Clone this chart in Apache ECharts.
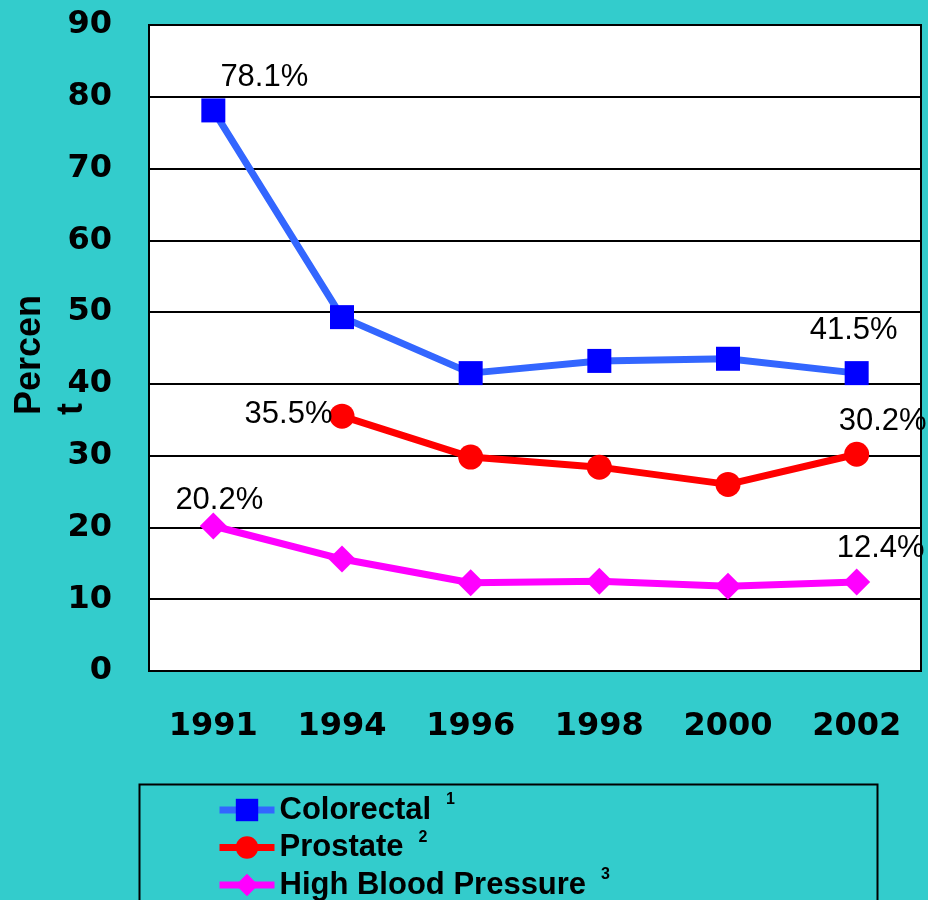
<!DOCTYPE html>
<html style="height: 100%">
<head>
    <meta charset="utf-8">
    <title>Screening trends</title>
    <script type="text/javascript" src="https://cdn.jsdelivr.net/npm/echarts@6/dist/echarts.min.js"></script>
</head>
<body style="height: 100%; margin: 0; background: #33CCCC;">
<div id="container" style="width: 928px; height: 900px;"></div>
<script type="text/javascript">
    // data
    var years = ['1991', '1994', '1996', '1998', '2000', '2002'];
    var colorectal = [78.1, 49.3, 41.5, 43.2, 43.5, 41.5];
    var prostate = [null, 35.5, 29.8, 28.4, 26.0, 30.2];
    var highBP = [20.2, 15.6, 12.3, 12.5, 11.8, 12.4];
    var seriesNames = ['Colorectal', 'Prostate', 'High Blood Pressure'];
    var notes = ['1', '2', '3'];
    var yTicks = [0, 10, 20, 30, 40, 50, 60, 70, 80, 90];

    // which points carry a value label, and where
    var labelCfg = [
        {0: {position: 'top', distance: 5, offset: [51, 0]},
         5: {position: 'top', distance: 5, offset: [-3, -10]}},
        {1: {position: 'left', distance: -3, offset: [0, -2]},
         5: {position: 'top', distance: 5, offset: [26, 0]}},
        {0: {position: 'top', distance: 0, offset: [6, 3]},
         5: {position: 'top', distance: 5, offset: [24, 0]}}
    ];

    function buildData(values, cfg) {
        var out = [];
        for (var i = 0; i < values.length; i++) {
            if (cfg[i]) {
                var lb = {show: true, formatter: '{c}%', color: '#000',
                    fontFamily: '"Liberation Sans", Arial, sans-serif', fontSize: 31};
                for (var k in cfg[i]) lb[k] = cfg[i][k];
                out.push({value: values[i], label: lb});
            } else {
                out.push(values[i] == null ? '-' : values[i]);
            }
        }
        return out;
    }

    var myChart = echarts.init(document.getElementById('container'));
    var tickFont = {color: '#000', fontWeight: 'bold', fontSize: 32, fontFamily: '"DejaVu Sans", sans-serif'};

    option = {
        backgroundColor: '#33CCCC',
        animation: false,
        grid: {
            left: 149, right: 7, top: 25, bottom: 229,
            show: true, backgroundColor: '#fff', borderColor: '#000', borderWidth: 2
        },
        xAxis: {
            type: 'category',
            data: years,
            boundaryGap: true,
            axisTick: {show: false},
            axisLine: {lineStyle: {color: '#000', width: 2}},
            axisLabel: Object.assign({margin: 40}, tickFont)
        },
        yAxis: {
            type: 'value',
            min: yTicks[0],
            max: yTicks[yTicks.length - 1],
            interval: 10,
            axisLine: {show: true, lineStyle: {color: '#000', width: 2}},
            axisTick: {show: false},
            axisLabel: Object.assign({margin: 37}, tickFont),
            splitLine: {lineStyle: {color: '#000', width: 2}}
        },
        legend: {
            orient: 'vertical',
            left: 216,
            top: 792,
            height: 200,
            padding: 0,
            itemGap: 4,
            itemWidth: 55,
            itemHeight: 28,
            lineStyle: {width: 7},
            data: seriesNames,
            formatter: function (name) {
                return '{t|' + name + '}{s|' + notes[seriesNames.indexOf(name)] + '}';
            },
            textStyle: {
                rich: {
                    t: {fontSize: 31, fontWeight: 'bold', color: '#000', lineHeight: 36,
                        fontFamily: '"Liberation Sans", Arial, sans-serif'},
                    s: {fontSize: 16, fontWeight: 'bold', color: '#000', lineHeight: 16,
                        verticalAlign: 'top', padding: [0, 0, 0, 15],
                        fontFamily: '"Liberation Sans", Arial, sans-serif'}
                }
            }
        },
        graphic: [
            {type: 'rect', left: 137, top: 782, shape: {width: 738, height: 140},
             style: {fill: 'none', stroke: '#000', lineWidth: 2}, silent: true},
            {type: 'text', x: 9, y: 415, rotation: Math.PI / 2,
             style: {text: 'Percen\nt', fill: '#000', font: 'bold 36px "Liberation Sans", Arial, sans-serif',
                 textAlign: 'left', textVerticalAlign: 'top', lineHeight: 42}}
        ],
        series: [
            {
                name: seriesNames[0], type: 'line', data: buildData(colorectal, labelCfg[0]),
                symbol: 'rect', symbolSize: 24,
                lineStyle: {color: '#3366FF', width: 7},
                itemStyle: {color: '#0000FF'}
            },
            {
                name: seriesNames[1], type: 'line', data: buildData(prostate, labelCfg[1]),
                symbol: 'circle', symbolSize: 25,
                lineStyle: {color: '#FF0000', width: 7},
                itemStyle: {color: '#FF0000'}
            },
            {
                name: seriesNames[2], type: 'line', data: buildData(highBP, labelCfg[2]),
                symbol: 'diamond', symbolSize: 27,
                lineStyle: {color: '#FF00FF', width: 7},
                itemStyle: {color: '#FF00FF'}
            }
        ]
    };
    myChart.setOption(option, true);
</script>
</body>
</html>
